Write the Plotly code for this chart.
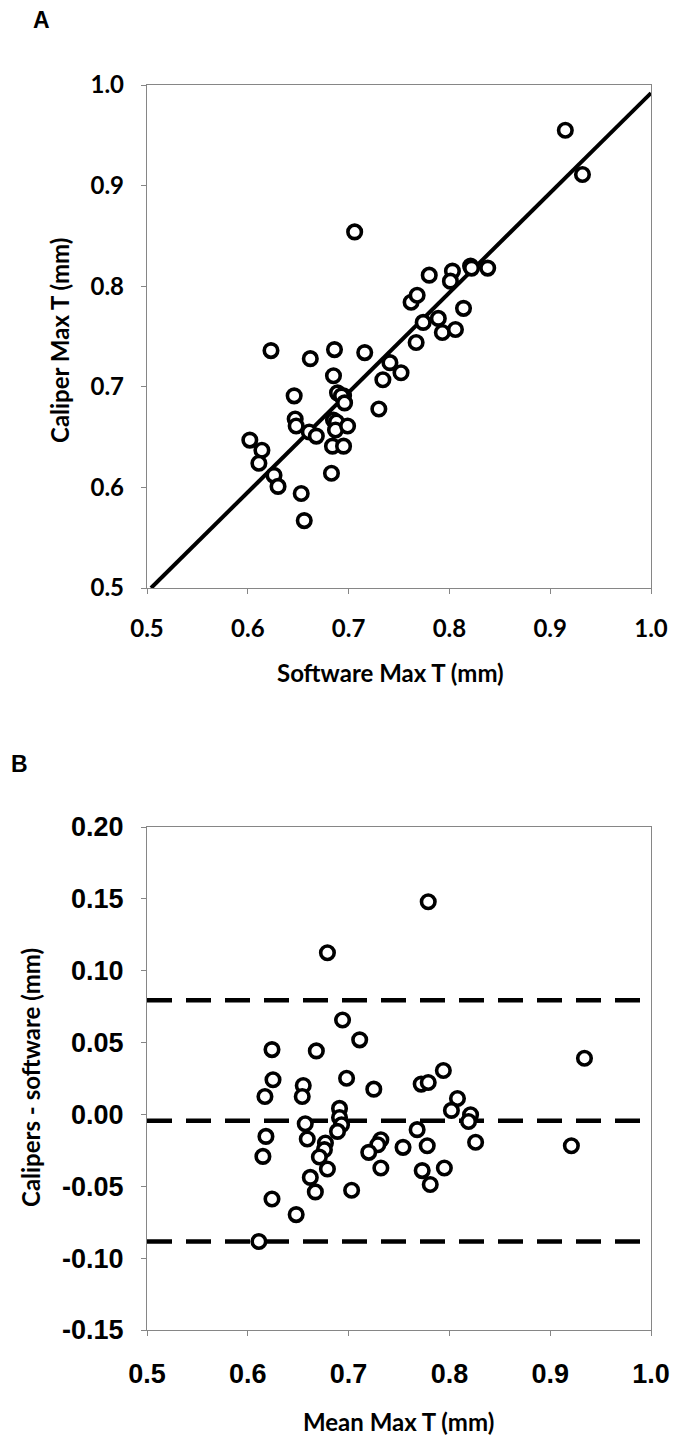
import plotly.graph_objects as go

# Panel A: software vs caliper max thickness (mm)
software_a = [0.915, 0.932, 0.706, 0.821, 0.822, 0.838, 0.780, 0.803, 0.801, 0.762, 0.768,
              0.814, 0.789, 0.774, 0.793, 0.806, 0.767, 0.623, 0.686, 0.716, 0.662, 0.741,
              0.752, 0.734, 0.685, 0.646, 0.689, 0.695, 0.693, 0.696, 0.730, 0.647, 0.648,
              0.661, 0.668, 0.685, 0.688, 0.687, 0.699, 0.602, 0.614, 0.611, 0.626, 0.630,
              0.684, 0.695, 0.683, 0.653, 0.656]
caliper_a = [0.955, 0.911, 0.854, 0.820, 0.818, 0.818, 0.811, 0.815, 0.805, 0.784, 0.791,
             0.778, 0.768, 0.764, 0.754, 0.757, 0.744, 0.736, 0.737, 0.734, 0.728, 0.724,
             0.714, 0.707, 0.711, 0.691, 0.694, 0.691, 0.691, 0.684, 0.678, 0.668, 0.661,
             0.655, 0.651, 0.667, 0.665, 0.657, 0.661, 0.647, 0.637, 0.624, 0.612, 0.601,
             0.641, 0.641, 0.614, 0.594, 0.567]
fit_x = [0.504, 1.0]
fit_y = [0.5, 0.992]

# Panel B: Bland-Altman
mean_b = [0.779, 0.679, 0.694, 0.711, 0.624, 0.668, 0.934, 0.794, 0.698, 0.625, 0.655,
          0.772, 0.779, 0.725, 0.617, 0.654, 0.808, 0.691, 0.802, 0.821, 0.691, 0.819,
          0.657, 0.693, 0.689, 0.768, 0.618, 0.659, 0.732, 0.677, 0.729, 0.826, 0.754,
          0.778, 0.921, 0.676, 0.720, 0.671, 0.615, 0.679, 0.732, 0.795, 0.773, 0.662,
          0.781, 0.667, 0.703, 0.624, 0.648, 0.611]
diff_b = [0.148, 0.1125, 0.0657, 0.0519, 0.0451, 0.0442, 0.0391, 0.0306, 0.0252, 0.0241,
          0.0201, 0.0211, 0.0222, 0.0176, 0.0125, 0.0125, 0.0111, 0.0042, 0.0028, -0.0002,
          -0.0021, -0.0049, -0.0065, -0.0072, -0.0118, -0.0106, -0.0153, -0.0171, -0.0176,
          -0.0199, -0.0211, -0.0194, -0.0229, -0.0218, -0.0218, -0.0245, -0.0264, -0.0296,
          -0.0292, -0.0380, -0.0373, -0.0373, -0.0391, -0.0438, -0.0488, -0.0539, -0.0528,
          -0.0588, -0.0697, -0.0884]
limits_b = [0.0794, -0.0044, -0.0884]
limit_x = [0.5, 1.0]

x_ticks = [0.5, 0.6, 0.7, 0.8, 0.9, 1.0]
x_ticktext = ["0.5", "0.6", "0.7", "0.8", "0.9", "1.0"]
ya_ticks = [0.5, 0.6, 0.7, 0.8, 0.9, 1.0]
ya_ticktext = ["0.5", "0.6", "0.7", "0.8", "0.9", "1.0"]
yb_ticks = [-0.15, -0.10, -0.05, 0.0, 0.05, 0.10, 0.15, 0.20]
yb_ticktext = ["-0.15", "-0.10", "-0.05", "0.00", "0.05", "0.10", "0.15", "0.20"]

W, H = 673, 1436
fig = go.Figure()

fig.add_trace(go.Scatter(x=fit_x, y=fit_y, mode="lines",
                         line=dict(color="black", width=4), xaxis="x", yaxis="y",
                         showlegend=False, hoverinfo="skip"))
fig.add_trace(go.Scatter(x=software_a, y=caliper_a, mode="markers",
                         marker=dict(symbol="circle", size=13.5, color="white",
                                     line=dict(color="black", width=3.6)),
                         xaxis="x", yaxis="y", showlegend=False))

for v in limits_b:
    fig.add_trace(go.Scatter(x=limit_x, y=[v, v], mode="lines",
                             line=dict(color="black", width=4.5, dash="25px,14px"),
                             xaxis="x2", yaxis="y2", showlegend=False, hoverinfo="skip"))
fig.add_trace(go.Scatter(x=mean_b, y=diff_b, mode="markers",
                         marker=dict(symbol="circle", size=13.5, color="white",
                                     line=dict(color="black", width=3.6)),
                         xaxis="x2", yaxis="y2", showlegend=False))

axis_common = dict(showgrid=False, zeroline=False, showline=True, linecolor="#868686",
                   linewidth=1.3, mirror=True, ticks="outside", ticklen=5, tickwidth=1.3,
                   tickcolor="#868686", automargin=False)
fontA = dict(family="Lato", size=24, color="black", weight=700)
fontB = dict(family="Liberation Sans", size=27, color="black", weight=700)

xd = [147 / W, 651 / W]
fig.update_layout(
    width=W, height=H, margin=dict(l=0, r=0, t=0, b=0, autoexpand=False),
    paper_bgcolor="white", plot_bgcolor="white", showlegend=False,
    xaxis=dict(domain=xd, anchor="y", range=[0.5, 1.0], tickvals=x_ticks,
               ticktext=x_ticktext, tickfont=fontA, ticklabelstandoff=14, **axis_common),
    yaxis=dict(domain=[1 - 588 / H, 1 - 85 / H], anchor="x", range=[0.5, 1.0],
               tickvals=ya_ticks, ticktext=ya_ticktext, tickfont=fontA,
               ticklabelstandoff=12, **axis_common),
    xaxis2=dict(domain=xd, anchor="y2", range=[0.5, 1.0], tickvals=x_ticks,
                ticktext=x_ticktext, tickfont=fontB, ticklabelstandoff=14, **axis_common),
    yaxis2=dict(domain=[1 - 1330 / H, 1 - 827 / H], anchor="x2", range=[-0.15, 0.20],
                tickvals=yb_ticks, ticktext=yb_ticktext, tickfont=fontB,
                ticklabelstandoff=12, **axis_common),
)


def ann(text, px, py, font, angle=0):
    fig.add_annotation(text=text, x=px / W, y=1 - py / H, xref="paper", yref="paper",
                       showarrow=False, textangle=angle, font=font,
                       xanchor="center", yanchor="middle")


letter_font = dict(family="Liberation Sans", size=23, color="black", weight=700)
title_font = dict(family="Lato", size=24, color="black", weight=700)
ann("A", 41, 20, letter_font)
ann("B", 19, 764, letter_font)
ann("Caliper Max T (mm)", 60, 341, title_font, -90)
ann("Software Max T (mm)", 390, 672, title_font)
ann("Calipers - software (mm)", 30, 1078, title_font, -90)
ann("Mean Max T (mm)", 398, 1421, title_font)

fig.write_html("out.html", config={"displayModeBar": False},
               post_script="document.body.style.margin='0';document.body.style.overflow='hidden';")
